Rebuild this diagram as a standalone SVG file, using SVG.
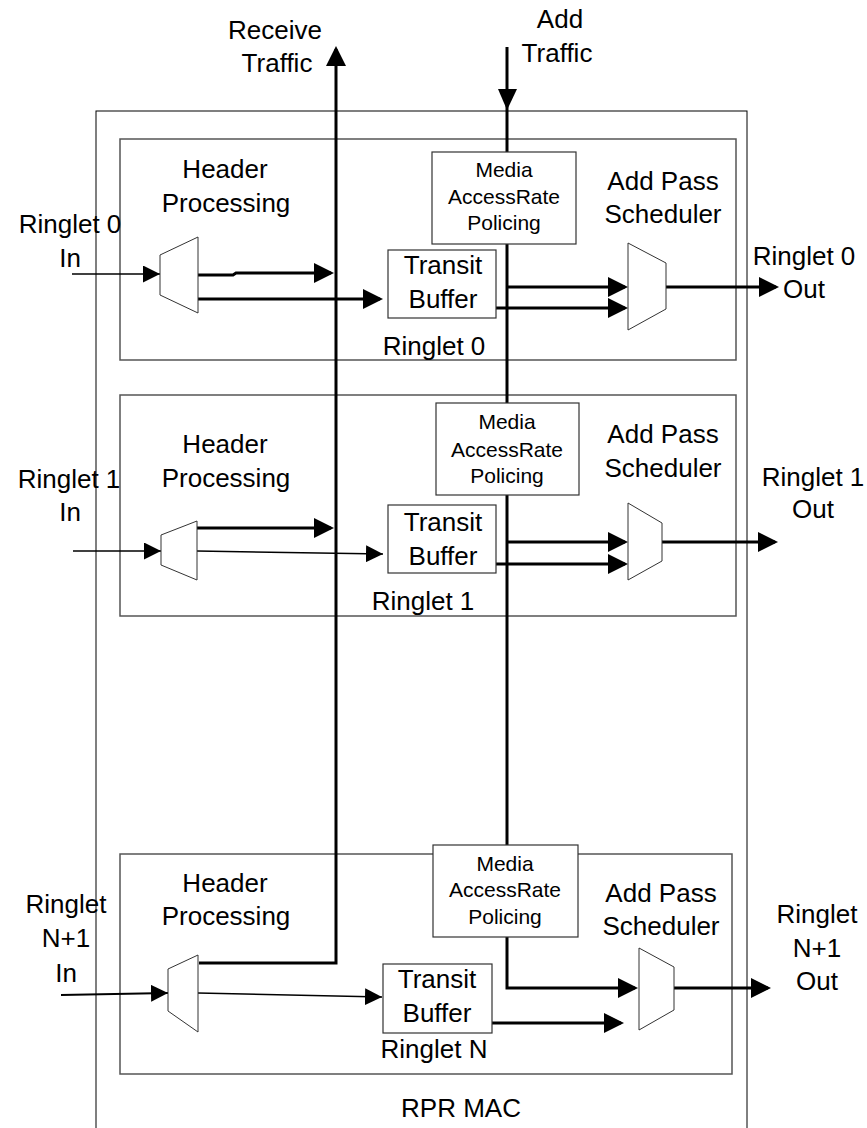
<svg xmlns="http://www.w3.org/2000/svg" width="867" height="1128" viewBox="0 0 867 1128">
<defs>
<style>
text{font-family:"Liberation Sans",Arial,sans-serif;font-size:26px;fill:#000;text-anchor:middle}
text.sm{font-size:21px}
.frame{fill:none;stroke:#000;stroke-width:1}
.ring{fill:none;stroke:#555;stroke-width:1.5}
.box{fill:#fff;stroke:#333;stroke-width:1.2}
.mux{fill:#fff;stroke:#333;stroke-width:1}
.thick{fill:none;stroke:#000;stroke-width:3;marker-end:url(#ah)}
.bus{fill:none;stroke:#000;stroke-width:3}
.thin{fill:none;stroke:#000;stroke-width:1.5;marker-end:url(#at)}
</style>
<marker id="ah" markerUnits="userSpaceOnUse" markerWidth="20" markerHeight="20" refX="17" refY="10" orient="auto"><path d="M0,0 L20,10 L0,20 z" fill="#000"/></marker>
<marker id="at" markerUnits="userSpaceOnUse" markerWidth="17" markerHeight="17" refX="17" refY="8.5" orient="auto"><path d="M0,0 L17,8.5 L0,17 z" fill="#000"/></marker>
</defs>

<g id="rpr-mac">
<rect class="frame" x="96" y="111" width="651" height="1030"/>
<text x="461" y="1117">RPR MAC</text>
</g>

<g id="ringlet0">
<rect class="ring" x="120" y="139" width="616" height="221"/>
<text x="434" y="355">Ringlet 0</text>
</g>
<g id="ringlet1">
<rect class="ring" x="120" y="395" width="616" height="221"/>
<text x="423" y="610">Ringlet 1</text>
</g>
<g id="ringletN">
<rect class="ring" x="120" y="854" width="612" height="220"/>
<text x="434" y="1058">Ringlet N</text>
</g>

<g id="connectors">
<!-- Receive traffic bus -->
<path class="thick" d="M199,963 H336 V49"/>
<!-- Add traffic bus -->
<path class="bus" d="M507,47 V152"/>
<polygon points="498,89 517,89 507,110" fill="#000"/>
<path class="bus" d="M507,244 V403"/>
<path class="bus" d="M507,495 V845"/>
<path class="thick" d="M507,937 V988 H635"/>

<!-- Ringlet 0 -->
<path class="thin" d="M72,274 H160"/>
<path class="thick" d="M198,275 H233 L236,273 H331"/>
<path class="thick" d="M198,299 H380"/>
<path class="thick" d="M507,287 H625"/>
<path class="thick" d="M496,308 H625"/>
<path class="thick" d="M666,287 H776"/>

<!-- Ringlet 1 -->
<path class="thin" d="M73,551 H161"/>
<path class="thick" d="M197,528 H331"/>
<path class="thin" d="M197,551 L383,554"/>
<path class="thick" d="M507,542 H625"/>
<path class="thick" d="M496,564 H625"/>
<path class="thick" d="M662,542 H775"/>

<!-- Ringlet N -->
<path class="thin" style="stroke-width:2" d="M61,995 L168,993"/>
<path class="thin" d="M198,993 L382,997"/>
<path class="thick" d="M492,1023 H621"/>
<path class="thick" d="M674,988 H768"/>
</g>

<g id="header0">
<polygon class="mux" points="160,255 198,237 198,313 160,295"/>
<text x="225" y="178">Header</text>
<text x="226" y="212">Processing</text>
</g>
<g id="media0">
<rect class="box" x="432" y="152" width="144" height="92"/>
<text class="sm" x="504" y="177">Media</text>
<text class="sm" x="504" y="204">AccessRate</text>
<text class="sm" x="504" y="230">Policing</text>
</g>
<g id="transit0">
<rect class="box" x="388" y="250" width="108" height="68"/>
<text x="443" y="274">Transit</text>
<text x="443" y="308">Buffer</text>
</g>
<g id="sched0">
<polygon class="mux" points="628,243 666,263 666,309 628,330"/>
<text x="663" y="190">Add Pass</text>
<text x="663" y="223">Scheduler</text>
</g>
<g id="in0">
<text x="70" y="233">Ringlet 0</text>
<text x="70" y="267">In</text>
</g>
<g id="out0">
<text x="804" y="265">Ringlet 0</text>
<text x="804" y="298">Out</text>
</g>

<g id="header1">
<polygon class="mux" points="161,535 197,521 197,580 161,565"/>
<text x="225" y="453">Header</text>
<text x="226" y="487">Processing</text>
</g>
<g id="media1">
<rect class="box" x="436" y="403" width="143" height="92"/>
<text class="sm" x="507" y="429">Media</text>
<text class="sm" x="507" y="457">AccessRate</text>
<text class="sm" x="507" y="483">Policing</text>
</g>
<g id="transit1">
<rect class="box" x="388" y="505" width="108" height="68"/>
<text x="443" y="531">Transit</text>
<text x="443" y="565">Buffer</text>
</g>
<g id="sched1">
<polygon class="mux" points="628,503 662,523 662,561 628,580"/>
<text x="663" y="443">Add Pass</text>
<text x="663" y="477">Scheduler</text>
</g>
<g id="in1">
<text x="69" y="488">Ringlet 1</text>
<text x="70" y="521">In</text>
</g>
<g id="out1">
<text x="813" y="486">Ringlet 1</text>
<text x="813" y="518">Out</text>
</g>

<g id="headerN">
<polygon class="mux" points="168,969 198,955 198,1032 168,1011"/>
<text x="225" y="892">Header</text>
<text x="226" y="925">Processing</text>
</g>
<g id="mediaN">
<rect class="box" x="433" y="845" width="145" height="92"/>
<text class="sm" x="505" y="871">Media</text>
<text class="sm" x="505" y="897">AccessRate</text>
<text class="sm" x="505" y="924">Policing</text>
</g>
<g id="transitN">
<rect class="box" x="383" y="964" width="109" height="69"/>
<text x="437" y="988">Transit</text>
<text x="437" y="1022">Buffer</text>
</g>
<g id="schedN">
<polygon class="mux" points="639,948 674,967 674,1010 639,1030"/>
<text x="661" y="902">Add Pass</text>
<text x="661" y="935">Scheduler</text>
</g>
<g id="inN">
<text x="66" y="913">Ringlet</text>
<text x="66" y="947">N+1</text>
<text x="66" y="982">In</text>
</g>
<g id="outN">
<text x="817" y="923">Ringlet</text>
<text x="817" y="957">N+1</text>
<text x="817" y="990">Out</text>
</g>

<g id="receive-traffic">
<text x="275" y="39">Receive</text>
<text x="277" y="72">Traffic</text>
</g>
<g id="add-traffic">
<text x="560" y="28">Add</text>
<text x="557" y="62">Traffic</text>
</g>
</svg>
